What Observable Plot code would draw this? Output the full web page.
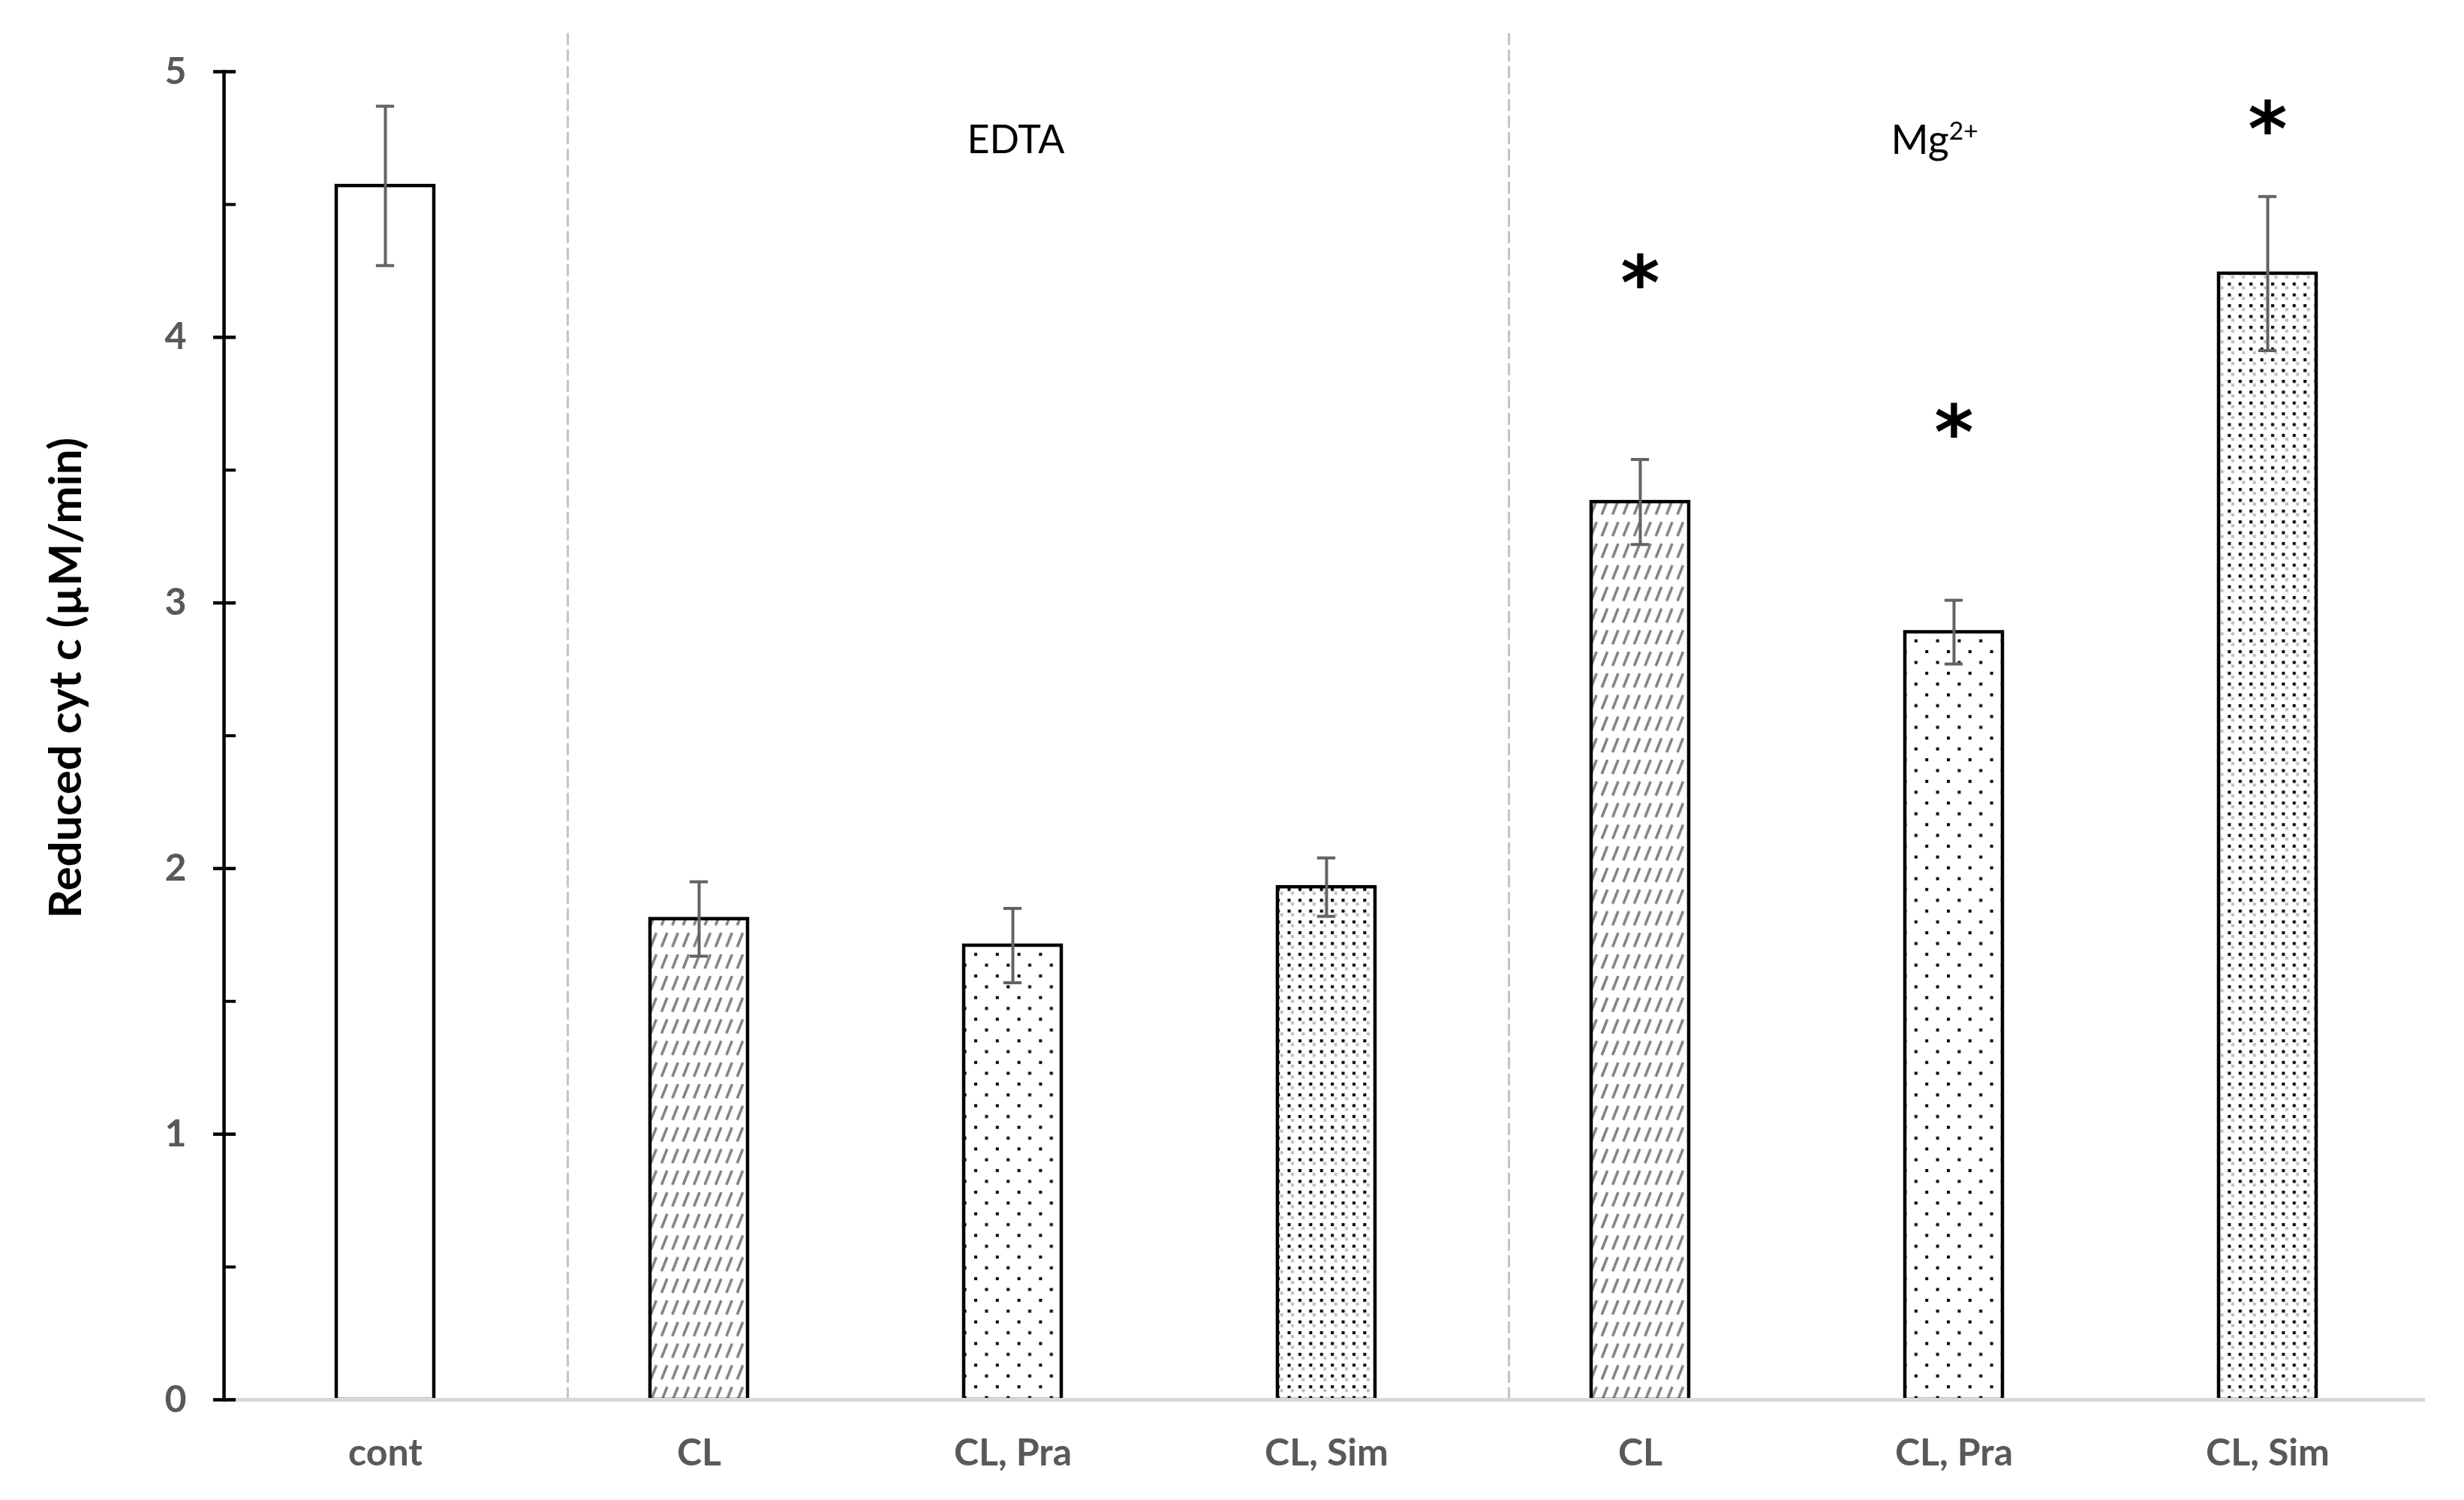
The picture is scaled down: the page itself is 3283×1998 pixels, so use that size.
<!DOCTYPE html>
<html>
<head>
<meta charset="utf-8">
<script src="https://cdn.jsdelivr.net/npm/d3@7"></script>
<script src="https://cdn.jsdelivr.net/npm/@observablehq/plot@0.6"></script>
<style>
  html, body { margin: 0; padding: 0; background: #fff; }
</style>
</head>
<body>
<div id="chart"></div>
<script>
// ---- data ----
const groups      = ["", "EDTA", "EDTA", "EDTA", "Mg2+", "Mg2+", "Mg2+"];
const treatments  = ["cont", "CL", "CL, Pra", "CL, Sim", "CL", "CL, Pra", "CL, Sim"];
const means       = [4.57, 1.81, 1.71, 1.93, 3.38, 2.89, 4.24];
const errors      = [0.30, 0.14, 0.14, 0.11, 0.16, 0.12, 0.29];
const significant = [false, false, false, false, true, true, true];
const asteriskY   = [null, null, null, null, 4.24, 3.68, 4.82];
const groupLabels = ["EDTA", "Mg2+"];
const groupLabelAt = [2, 5];          // category index the label is centred over
const groupLabelY = 4.74;
const groupStarts = [1, 4];           // first category index of each group (separator)
const yTicks      = [0, 1, 2, 3, 4, 5];
const yMinorTicks = [0.5, 1.5, 2.5, 3.5, 4.5];
const yLabel      = "Reduced cyt c (µM/min)";

// ---- layout / style ----
const W = 3283, H = 1998;
const marginLeft = 298, marginRight = 52, marginTop = 95, marginBottom = 134;
const xRange = [302, 3231];
const padInner = 0.69;
const step = (xRange[1] - xRange[0]) / treatments.length;
const bandW = step * (1 - padInner);
const capW = 24;
const capInset = (bandW - capW) / 2;
const patternFor = {"cont": "white", "CL": "url(#pat-cl)", "CL, Pra": "url(#pat-pra)", "CL, Sim": "url(#pat-sim)"};
const errColor = "#636363";
const tickGray = "#595959";

const rows = treatments.map((t, i) => ({
  i, treatment: t, group: groups[i], mean: means[i], err: errors[i],
  star: significant[i] ? "*" : null, starY: asteriskY[i]
}));

const plot = Plot.plot({
  width: W, height: H,
  marginLeft, marginRight, marginTop, marginBottom,
  style: {background: "white", fontFamily: "Lato, 'Noto Sans', sans-serif", overflow: "visible"},
  x: {type: "band", domain: d3.range(treatments.length), range: xRange, paddingInner: padInner, paddingOuter: padInner / 2},
  y: {domain: [0, 5]},
  color: {type: "identity"},
  marks: [
    Plot.barY(rows, {x: "i", y: "mean", fill: d => patternFor[d.treatment], stroke: "black", strokeWidth: 4.5}),
    Plot.ruleX(rows, {x: "i", y1: d => d.mean - d.err, y2: d => d.mean + d.err, stroke: errColor, strokeWidth: 4}),
    Plot.tickY(rows, {x: "i", y: d => d.mean - d.err, stroke: errColor, strokeWidth: 4, insetLeft: capInset, insetRight: capInset}),
    Plot.tickY(rows, {x: "i", y: d => d.mean + d.err, stroke: errColor, strokeWidth: 4, insetLeft: capInset, insetRight: capInset}),
    Plot.ruleX(groupStarts, {x: d => d, y1: 0, y2: 5.15, dx: -175, stroke: "#c4c4c4", strokeWidth: 3, strokeDasharray: "16,6"}),
    Plot.ruleY([0], {stroke: "#d9d9d9", strokeWidth: 5}),
    Plot.frame({anchor: "left", stroke: "black", strokeWidth: 4.5}),
    Plot.axisY({ticks: yTicks, tickSize: 30, dx: 16, fill: "none", stroke: "black", strokeWidth: 4.5}),
    Plot.axisY({ticks: yMinorTicks, tickSize: 16, dx: 16, fill: "none", stroke: "black", strokeWidth: 4}),
    Plot.axisY({ticks: yTicks, tickFormat: d => String(d), tickSize: 0, tickPadding: 50, fontSize: 50, fontWeight: "bold", fill: tickGray, label: null}),
    Plot.axisX({tickSize: 0, tickPadding: 52, tickFormat: i => treatments[i], fontSize: 50, fontWeight: "bold", fill: tickGray, label: null}),
    Plot.text([groupLabels[0]], {x: () => groupLabelAt[0], y: groupLabelY, text: d => d, fontSize: 52, fill: "black", dx: 4}),
    Plot.text([groupLabels[1]], {x: () => groupLabelAt[1], y: groupLabelY, text: d => d, fontSize: 54, fill: "black", dx: -26}),
    Plot.text(rows.filter(d => d.star), {x: "i", y: "starY", text: "star", fontSize: 100, fontWeight: "bold", fontFamily: "DejaVu Sans", fill: "black", dy: 16}),
    Plot.text([yLabel], {frameAnchor: "left", textAnchor: "middle", dx: -210, dy: -77, rotate: -90, fontSize: 60, fontWeight: "bold", fill: "black"})
  ]
});

// patterns
const svg = d3.select(plot);
const defs = svg.insert("defs", ":first-child");
const pCL = defs.append("pattern").attr("id", "pat-cl").attr("patternUnits", "userSpaceOnUse").attr("width", 14.4).attr("height", 28.8);
pCL.append("rect").attr("width", 14.4).attr("height", 28.8).attr("fill", "white");
pCL.append("path").attr("d", "M3,23 L10.5,4").attr("stroke", "#7f7f7f").attr("stroke-width", 3.5).attr("fill", "none");
const pPra = defs.append("pattern").attr("id", "pat-pra").attr("patternUnits", "userSpaceOnUse").attr("width", 28.8).attr("height", 28.8);
pPra.append("rect").attr("width", 28.8).attr("height", 28.8).attr("fill", "white");
pPra.append("rect").attr("x", 2).attr("y", 2).attr("width", 4).attr("height", 4).attr("fill", "black");
pPra.append("rect").attr("x", 16.4).attr("y", 16.4).attr("width", 4).attr("height", 4).attr("fill", "black");
const pSim = defs.append("pattern").attr("id", "pat-sim").attr("patternUnits", "userSpaceOnUse").attr("width", 14.4).attr("height", 14.4);
pSim.append("rect").attr("width", 14.4).attr("height", 14.4).attr("fill", "white");
pSim.append("rect").attr("x", 2).attr("y", 2).attr("width", 4).attr("height", 4).attr("fill", "black");
pSim.append("rect").attr("x", 6.5).attr("y", 7).attr("width", 4).attr("height", 4).attr("fill", "#bdbdbd");

// superscript for Mg2+
svg.selectAll("text").filter(function() { return this.textContent === "Mg2+"; }).each(function() {
  const t = d3.select(this);
  t.text("Mg");
  t.append("tspan").attr("dy", "-0.55em").attr("font-size", "62%").text("2+");
});

document.getElementById("chart").appendChild(plot);
</script>
</body>
</html>
